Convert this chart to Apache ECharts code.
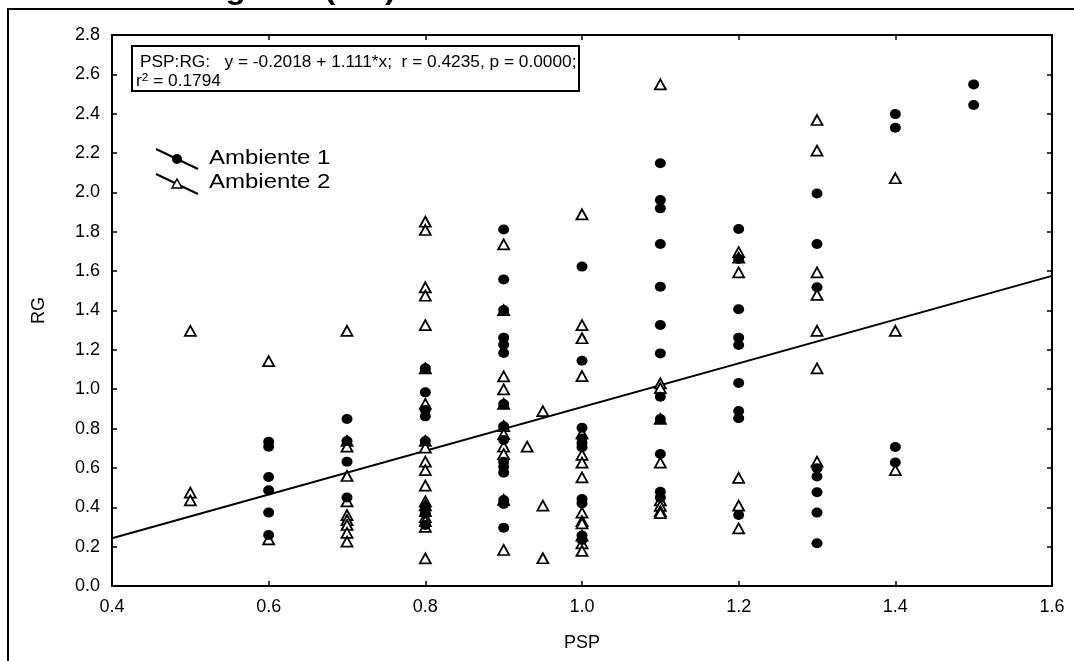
<!DOCTYPE html>
<html>
<head>
<meta charset="utf-8">
<script src="https://cdn.jsdelivr.net/npm/echarts@6/dist/echarts.min.js"></script>
<style>
html,body{margin:0;padding:0;background:#fff;}
#c{width:1074px;height:661px;}
</style>
</head>
<body>
<div id="c"></div>
<script>
// ---- data ----
const xTicks = [0.4, 0.6, 0.8, 1.0, 1.2, 1.4, 1.6];
const yTicks = [0.0, 0.2, 0.4, 0.6, 0.8, 1.0, 1.2, 1.4, 1.6, 1.8, 2.0, 2.2, 2.4, 2.6, 2.8];

// Ambiente 1 (filled circles): PSP value -> list of RG values
const amb1PSP = [0.6, 0.7, 0.8, 0.9, 1.0, 1.1, 1.2, 1.3, 1.4, 1.5];
const amb1RG = [
  [0.733, 0.708, 0.554, 0.486, 0.373, 0.259],
  [0.849, 0.737, 0.632, 0.45],
  [1.106, 0.984, 0.894, 0.862, 0.737, 0.40, 0.37, 0.31],
  [1.812, 1.558, 1.402, 1.262, 1.226, 1.184, 0.925, 0.812, 0.742, 0.632, 0.606, 0.576, 0.437, 0.417, 0.296],
  [1.623, 1.145, 0.804, 0.750, 0.725, 0.705, 0.442, 0.420, 0.256, 0.234],
  [2.148, 1.961, 1.919, 1.738, 1.521, 1.326, 1.182, 0.962, 0.849, 0.671, 0.479, 0.45],
  [1.814, 1.662, 1.406, 1.262, 1.225, 1.032, 0.889, 0.852, 0.361],
  [1.995, 1.738, 1.518, 0.598, 0.556, 0.476, 0.373, 0.217],
  [2.398, 2.329, 0.706, 0.628],
  [2.549, 2.444]
];

// Ambiente 2 (open triangles)
const amb2PSP = [0.5, 0.6, 0.7, 0.8, 0.9, 0.93, 0.95, 1.0, 1.1, 1.2, 1.3, 1.4];
const amb2RG = [
  [1.296, 0.474, 0.435],
  [1.143, 0.237],
  [1.297, 0.737, 0.708, 0.559, 0.43, 0.36, 0.335, 0.31, 0.27, 0.225],
  [1.851, 1.809, 1.518, 1.475, 1.326, 1.106, 0.925, 0.737, 0.703, 0.632, 0.589, 0.51, 0.43, 0.41, 0.38, 0.35, 0.33, 0.30, 0.14],
  [1.736, 1.402, 1.065, 0.999, 0.925, 0.812, 0.772, 0.708, 0.670, 0.437, 0.183],
  [0.708],
  [0.889, 0.408, 0.141],
  [1.889, 1.326, 1.259, 1.067, 0.776, 0.666, 0.627, 0.552, 0.373, 0.330, 0.318, 0.256, 0.217, 0.179],
  [2.549, 1.030, 1.005, 0.849, 0.627, 0.435, 0.407, 0.38, 0.37],
  [1.697, 1.668, 1.594, 0.550, 0.408, 0.293],
  [2.368, 2.212, 1.594, 1.479, 1.297, 1.106, 0.632],
  [2.072, 1.297, 0.589]
];

// regression PSP:RG
const regIntercept = -0.2018;
const regSlope = 1.111;
const regX = [0.4, 1.6];
const eqLine1 = 'PSP:RG:   y = -0.2018 + 1.111*x;  r = 0.4235, p = 0.0000;';
const eqR2 = '0.1794';
const legendNames = ['Ambiente 1', 'Ambiente 2'];
const titleText = 'Rendimento de grãos (RG)';

// ---- build ----
function flatten(xs, ys) {
  const out = [];
  xs.forEach((x, i) => ys[i].forEach(v => out.push([x, v])));
  return out;
}
const pts1 = flatten(amb1PSP, amb1RG);
const pts2 = flatten(amb2PSP, amb2RG);
const regPts = regX.map(x => [x, regIntercept + regSlope * x]);

const FONT = '"Liberation Sans", Arial, sans-serif';
const chart = echarts.init(document.getElementById('c'), null, {renderer: 'canvas'});

const axisCommon = {
  axisLine: {show: true, onZero: false, lineStyle: {color: '#000', width: 2}},
  axisTick: {show: true, inside: true, length: 5, lineStyle: {color: '#000', width: 1.5}},
  splitLine: {show: false}
};

const triPath = 'path://M0,-10 L10,8 L-10,8 Z';

chart.setOption({
  animation: false,
  backgroundColor: '#fff',
  grid: {left: 112, right: 22, top: 35, bottom: 75, containLabel: false},
  xAxis: [
    Object.assign({}, axisCommon, {
      type: 'value', position: 'bottom', min: 0.4, max: 1.6, interval: 0.2,
      name: 'PSP', nameLocation: 'middle', nameGap: 48,
      nameTextStyle: {fontFamily: FONT, fontSize: 18, color: '#000'},
      axisLabel: {show: true, margin: 12, fontFamily: FONT, fontSize: 18, color: '#000',
        formatter: v => v.toFixed(1)}
    }),
    Object.assign({}, axisCommon, {
      type: 'value', position: 'top', min: 0.4, max: 1.6, interval: 0.2,
      axisLabel: {show: false}
    })
  ],
  yAxis: [
    Object.assign({}, axisCommon, {
      type: 'value', position: 'left', min: 0, max: 2.8, interval: 0.2,
      name: 'RG', nameLocation: 'middle', nameGap: 64, nameRotate: 90,
      nameTextStyle: {fontFamily: FONT, fontSize: 18, color: '#000'},
      axisLabel: {show: true, margin: 12, fontFamily: FONT, fontSize: 18, color: '#000',
        formatter: v => v.toFixed(1)}
    }),
    Object.assign({}, axisCommon, {
      type: 'value', position: 'right', min: 0, max: 2.8, interval: 0.2,
      axisLabel: {show: false}
    })
  ],
  series: [
    {
      name: 'reg', type: 'line', data: regPts, symbol: 'none',
      lineStyle: {color: '#000', width: 2}, z: 2, silent: true
    },
    {
      name: legendNames[1], type: 'scatter', data: pts2, symbol: triPath, symbolSize: [11, 10],
      itemStyle: {color: '#fff', borderColor: '#000', borderWidth: 1.8, opacity: 1}, z: 3
    },
    {
      name: legendNames[0], type: 'scatter', data: pts1, symbol: 'circle', symbolSize: [11, 10],
      itemStyle: {color: '#000', opacity: 1}, z: 4
    }
  ],
  graphic: [
    // outer frame
    {type: 'rect', shape: {x: 8, y: 9, width: 1100, height: 700},
      style: {fill: 'none', stroke: '#000', lineWidth: 2}, z: 0, silent: true},
    // cut-off title
    {type: 'text', x: -22, y: -24, scaleX: 1.1,
      style: {text: titleText, font: 'bold 30px ' + FONT, fill: '#000'}, silent: true},
    // equation box
    {type: 'rect', shape: {x: 132, y: 46, width: 447, height: 45},
      style: {fill: '#fff', stroke: '#000', lineWidth: 2}, z: 10, silent: true},
    {type: 'text', x: 140, y: 55, z: 11, scaleX: 1.08,
      style: {text: eqLine1, font: '16px ' + FONT, fill: '#000'}},
    {type: 'text', x: 136, y: 72, z: 11, scaleX: 1.08,
      style: {
        text: '{r|r}{s|2}{r| = ' + eqR2 + '}',
        rich: {r: {font: '16px ' + FONT, fill: '#000', verticalAlign: 'bottom'},
               s: {font: '11px ' + FONT, fill: '#000', verticalAlign: 'top', padding: [0, 0, 7, 0]}},
        fill: '#000'
      }},
    // legend
    {type: 'line', shape: {x1: 156, y1: 149, x2: 198, y2: 169}, style: {stroke: '#000', lineWidth: 2}, z: 10},
    {type: 'circle', shape: {cx: 177, cy: 159, r: 5}, style: {fill: '#000'}, z: 11},
    {type: 'text', x: 209, y: 148, z: 11, scaleX: 1.2, style: {text: legendNames[0], font: '20px ' + FONT, fill: '#000'}},
    {type: 'line', shape: {x1: 156, y1: 174, x2: 198, y2: 194}, style: {stroke: '#000', lineWidth: 2}, z: 10},
    {type: 'polygon', shape: {points: [[177, 179], [182, 188], [172, 188]]},
      style: {fill: '#fff', stroke: '#000', lineWidth: 1.5}, z: 11},
    {type: 'text', x: 209, y: 172, z: 11, scaleX: 1.2, style: {text: legendNames[1], font: '20px ' + FONT, fill: '#000'}}
  ]
});
</script>
</body>
</html>
